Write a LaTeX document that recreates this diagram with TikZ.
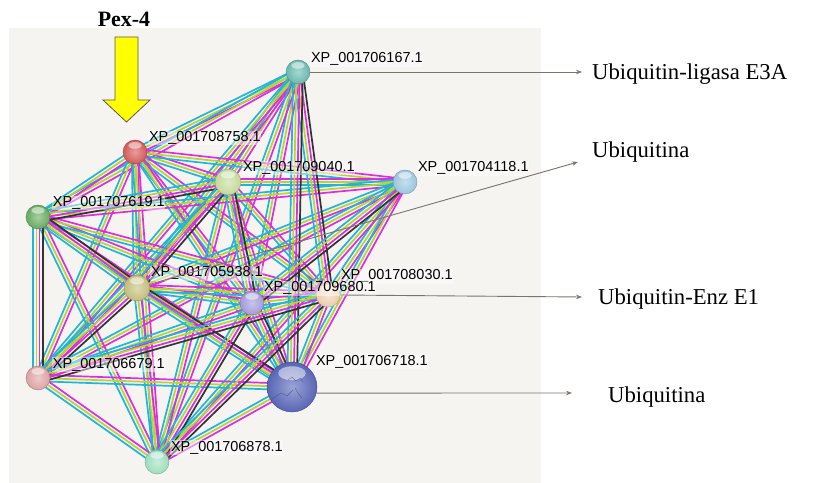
\documentclass[tikz,border=0pt]{standalone}
\usepackage{fontspec}
\setmainfont{Liberation Serif}
\newfontfamily\labelfont{Liberation Sans}
\usetikzlibrary{calc,arrows.meta}

\pgfdeclarelayer{panel}
\pgfdeclarelayer{edges}
\pgfsetlayers{panel,edges,main}

\definecolor{panelgray}{HTML}{F5F4F1}
\definecolor{ecyan}{HTML}{22B4DA}
\definecolor{eyel}{HTML}{B6D432}
\definecolor{emag}{HTML}{DE2CDE}
\definecolor{eblk}{HTML}{333333}
\definecolor{ptr}{HTML}{7D746C}
\definecolor{pexyellow}{HTML}{FFFF00}
% protein colours
\definecolor{cA}{HTML}{6DBDB3}
\definecolor{cB}{HTML}{D85C5C}
\definecolor{cC}{HTML}{C9DFA0}
\definecolor{cD}{HTML}{9FCBE3}
\definecolor{cE}{HTML}{6BAF63}
\definecolor{cF}{HTML}{C9C27F}
\definecolor{cG}{HTML}{A79EE0}
\definecolor{cH}{HTML}{F2D2B3}
\definecolor{cI}{HTML}{E2A7A7}
\definecolor{cJ}{HTML}{5A68BA}
\definecolor{cK}{HTML}{A3E3C3}

\begin{document}
\begin{tikzpicture}[x=1bp,y=-1bp,
  protein/.style={circle, inner sep=0pt, minimum size=24bp,
    inner color=#1!60!white, outer color=#1!97!black,
    draw=#1!75!black, line width=0.4bp},
  xp/.style={font=\labelfont\fontsize{14.5}{16}\selectfont, anchor=base west,
    inner sep=0.8bp, fill=white, fill opacity=0.45, text opacity=1},
  note/.style={font=\fontsize{22.8}{26}\selectfont, anchor=base west, inner sep=0pt},
  pointer/.style={draw=ptr, line width=0.9bp, -{Stealth[length=6bp,width=4.5bp]}},
  bond/.style={line width=1.7bp}
]
\useasboundingbox (0,0) rectangle (828,483);

% grey network panel
\begin{pgfonlayer}{panel}
  \fill[panelgray] (9,28) rectangle (541,483);
\end{pgfonlayer}

% proteins
\node[protein=cA] (A) at (298,72) {};
\node[protein=cB] (B) at (135,152) {};
\node[protein=cC, minimum size=26bp] (C) at (228,182) {};
\node[protein=cD] (D) at (405,182) {};
\node[protein=cE] (E) at (38,217) {};
\node[protein=cF, minimum size=26bp] (F) at (137,288) {};
\node[protein=cG] (G) at (252,303) {};
\node[protein=cH] (H) at (328,295) {};
\node[protein=cI] (I) at (38,378) {};
\node[protein=cJ, minimum size=50bp] (J) at (292,387) {};
\node[protein=cK] (K) at (157,462) {};

% glossy highlights
\foreach \n/\r in {A/12,B/12,C/13,D/12,E/12,F/13,G/12,H/12,I/12,J/25,K/12}
  \fill[white, opacity=0.5] ($(\n)+(0,{-0.55*\r})$) ellipse ({0.55*\r} and {0.28*\r});

% structure sketch inside the large protein
\draw[cJ!40!black, line width=0.4bp, opacity=0.5]
  (288,380) -- (292,377) -- (296,381) -- (300,378) -- (303,382)
  (272,399) -- (281,393) -- (287,396) -- (293,390)
  (295,388) -- (298,393) -- (302,398);

% interaction bundles
\begin{pgfonlayer}{edges}
  \foreach \a/\b in {A/B,A/C,A/E,A/F,A/G,A/I,A/K,
                     B/C,B/D,B/E,B/F,B/G,B/H,B/I,B/J,B/K,
                     C/D,C/H,C/I,C/J,C/K,
                     D/E,D/F,D/H,D/I,D/J,D/K,
                     E/G,E/H,E/J,E/K,
                     F/G,F/H,F/K,
                     G/H,G/I,
                     H/J,
                     I/J,I/K,
                     J/K} {
    \foreach \o/\col in {-3.2bp/ecyan,0bp/eyel,3.2bp/emag}
      \draw[bond,\col] ($(\a)!\o!90:(\b)$) -- ($(\b)!\o!-90:(\a)$);
  }
  \foreach \a/\b in {A/H,A/J,C/E,C/F,C/G,D/G,E/F,E/I,F/I,F/J,G/J,G/K,H/K,H/I} {
    \foreach \o/\col in {-4.8bp/ecyan,-1.6bp/eyel,1.6bp/emag,4.8bp/eblk}
      \draw[bond,\col] ($(\a)!\o!90:(\b)$) -- ($(\b)!\o!-90:(\a)$);
  }
\end{pgfonlayer}

% protein labels
\node[xp] (lA) at (310,63) {XP\_001706167.1};
\node[xp] (lB) at (148,141.5) {XP\_001708758.1};
\node[xp] (lC) at (242,171.5) {XP\_001709040.1};
\node[xp] (lD) at (417,172) {XP\_001704118.1};
\node[xp] (lE) at (52,206.5) {XP\_001707619.1};
\node[xp] (lH) at (340,280) {XP\_001708030.1};
\node[xp] (lF) at (150,277) {XP\_001705938.1};
\node[xp] (lG) at (263,292) {XP\_001709680.1};
\node[xp] (lI) at (52,368) {XP\_001706679.1};
\node[xp] (lJ) at (315,365) {XP\_001706718.1};
\node[xp] (lK) at (170,451) {XP\_001706878.1};

% annotations
\node[note] (uA) at (592,80) {Ubiquitin-ligasa E3A};
\node[note] (uF) at (592,158) {Ubiquitina};
\node[note] (uH) at (598,305) {Ubiquitin-Enz E1};
\node[note] (uJ) at (608,402) {Ubiquitina};

\coordinate (pA) at (582,72);
\coordinate (pF) at (578,162);
\coordinate (pH) at (582,297);
\coordinate (pJ) at (572,393);

\draw[pointer] (A.east) -- (pA);
\draw[pointer] (F.16) -- (pF);
\draw[pointer] (H.east) -- (pH);
\draw[pointer] (J.-14) -- (pJ);

% Pex-4 marker
\node[font=\bfseries\fontsize{22}{24}\selectfont, anchor=base, inner sep=0pt] (pex) at (124,27) {Pex-4};
\draw[fill=pexyellow, draw=black!65, line width=0.8bp]
  (115,37) -- (138,37) -- (138,100) -- (150,100) -- (126.5,122) -- (103,100) -- (115,100) -- cycle;
\end{tikzpicture}
\end{document}
